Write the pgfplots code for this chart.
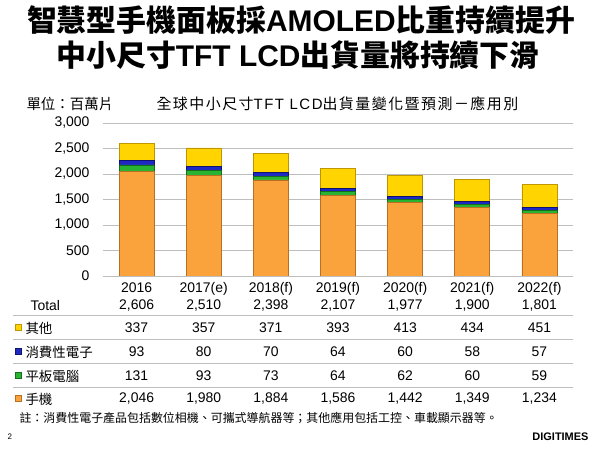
\documentclass[border=0pt]{standalone}
\usepackage{pgfplots}
\pgfplotsset{compat=1.18}
\usepackage{fontspec}
\setmainfont{Liberation Sans}
\newfontfamily\cjk{Noto Sans CJK TC}
\newfontfamily\cjkwide[LetterSpace=10]{Noto Sans CJK TC}
\newfontfamily\latinwide[LetterSpace=10]{Liberation Sans}

\definecolor{phone}{RGB}{250,162,60}
\definecolor{phoneedge}{RGB}{185,112,35}
\definecolor{tablet}{RGB}{40,180,50}
\definecolor{tabletedge}{RGB}{20,110,25}
\definecolor{consumer}{RGB}{30,40,195}
\definecolor{consumeredge}{RGB}{15,20,110}
\definecolor{other}{RGB}{255,212,0}
\definecolor{otheredge}{RGB}{190,150,0}
\definecolor{gridgray}{RGB}{190,190,190}

% shipments by application, million units
\pgfplotstableread{
x phone tablet consumer other
0 2046 131 93 337
1 1980 93 80 357
2 1884 73 70 371
3 1586 64 64 393
4 1442 62 60 413
5 1349 60 58 434
6 1234 59 57 451
}\shipments

\begin{document}
\begin{tikzpicture}[x=1bp,y=1bp]
\useasboundingbox (0,0) rectangle (600,450);

% headline
\node[font=\fontsize{30}{33}\selectfont\bfseries] at (301,430)
  {{\cjk 智慧型手機面板採}AMOLED{\cjk 比重持續提升}};
\node[font=\fontsize{30}{33}\selectfont\bfseries] at (298,395)
  {{\cjk 中小尺寸}TFT LCD{\cjk 出貨量將持續下滑}};

% chart captions
\node[anchor=west,font=\fontsize{14.5}{16}\selectfont] at (23,346) {{\cjk 單位：百萬片}};
\node[anchor=west,font=\fontsize{15}{17}\selectfont] at (153,346)
  {{\cjkwide 全球中小尺寸}{\latinwide TFT LCD}{\cjkwide 出貨量變化暨預測－應用別}};

\begin{axis}[
  at={(103bp,174bp)}, anchor=south west,
  scale only axis, width=470bp, height=153bp,
  xmin=-0.5, xmax=6.5, ymin=0, ymax=3000,
  ybar stacked, bar width=35bp,
  axis line style={draw=none},
  major tick length=0pt,
  ytick={0,500,...,3000},
  scaled y ticks=false,
  /pgf/number format/assume math mode=true,
  /pgf/number format/1000 sep={,},
  ymajorgrids, grid style={gridgray, line width=0.9pt},
  xtick={0,...,6},
  xticklabels={2016,2017(e),2018(f),2019(f),2020(f),2021(f),2022(f)},
  tick label style={font=\fontsize{14}{16}\selectfont},
  yticklabel style={xshift=-10bp},
  xticklabel style={yshift=-3bp},
]
\addplot[fill=phone, draw=phoneedge, line width=0.8pt] table[x=x,y=phone] {\shipments};
\addplot[fill=tablet, draw=tabletedge, line width=0.8pt] table[x=x,y=tablet] {\shipments};
\addplot[fill=consumer, draw=consumeredge, line width=0.8pt] table[x=x,y=consumer] {\shipments};
\addplot[fill=other, draw=otheredge, line width=0.8pt] table[x=x,y=other] {\shipments};
\end{axis}

% data table under the chart
\begin{scope}[font=\fontsize{14}{16}\selectfont]
\node[anchor=west] at (27,144) {Total};
\foreach \v [count=\i from 0] in {{2,606},{2,510},{2,398},{2,107},{1,977},{1,900},{1,801}}
  \node at ({103+67.14*(\i+0.5)},144) {\v};
\foreach \v [count=\i from 0] in {337,357,371,393,413,434,451}
  \node at ({103+67.14*(\i+0.5)},122) {\v};
\foreach \v [count=\i from 0] in {93,80,70,64,60,58,57}
  \node at ({103+67.14*(\i+0.5)},98) {\v};
\foreach \v [count=\i from 0] in {131,93,73,64,62,60,59}
  \node at ({103+67.14*(\i+0.5)},74) {\v};
\foreach \v [count=\i from 0] in {{2,046},{1,980},{1,884},{1,586},{1,442},{1,349},{1,234}}
  \node at ({103+67.14*(\i+0.5)},51) {\v};
\end{scope}

\foreach \yy in {135,111,87,63}
  \draw[gridgray, line width=0.9pt] (13,\yy) -- (573,\yy);

% row labels with colour keys
\begin{scope}[font=\fontsize{13.5}{15}\selectfont\cjk]
\node[anchor=west] at (22,122) {其他};
\node[anchor=west] at (22,98) {消費性電子};
\node[anchor=west] at (22,74) {平板電腦};
\node[anchor=west] at (22,51) {手機};
\end{scope}
\fill[other, draw=otheredge, line width=0.5pt] (15,120) rectangle (21,126);
\fill[consumer, draw=consumeredge, line width=0.5pt] (15,96) rectangle (21,102);
\fill[tablet, draw=tabletedge, line width=0.5pt] (15,72) rectangle (21,78);
\fill[phone, draw=phoneedge, line width=0.5pt] (15,49) rectangle (21,55);

% footnote, page number, logo
\node[anchor=west,font=\fontsize{12}{13}\selectfont\cjk] at (16,32)
  {註：消費性電子產品包括數位相機、可攜式導航器等；其他應用包括工控、車載顯示器等。};
\node[anchor=west,font=\fontsize{8}{9}\selectfont] at (4,13) {2};
\node[anchor=east,font=\fontsize{11}{12}\selectfont\bfseries] at (592,13) {DIGITIMES};
\end{tikzpicture}
\end{document}
